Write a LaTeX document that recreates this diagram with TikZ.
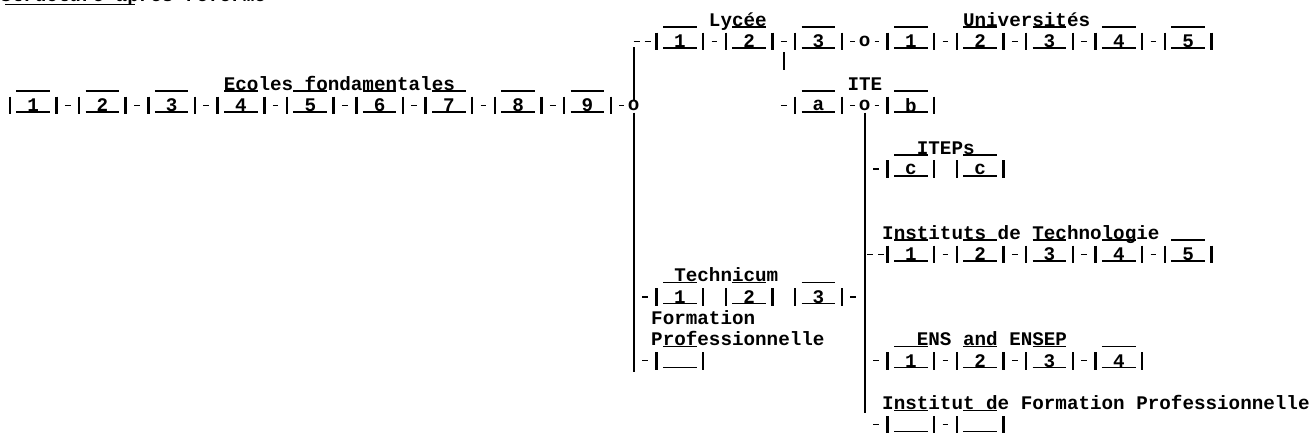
\documentclass[tikz,border=0pt]{standalone}
\usepackage{fontspec}
\setmonofont{Liberation Mono}
\newcommand\mkcell[4]{%
  \node[cell] (#1) at ({4.2+(#2+2.5)*11.55},#3) {#4};
  \draw[vbar] (#1.north west) -- (#1.south west) (#1.north east) -- (#1.south east);
  \draw[hbar] ([xshift=6.5pt,yshift=2pt]#1.south west) -- ([xshift=-6.5pt,yshift=2pt]#1.south east);
  \draw[hbar] ([xshift=6.5pt,yshift=5.5pt]#1.north west) -- ([xshift=-6.5pt,yshift=5.5pt]#1.north east);}
\newcommand\cc[1]{{4.2+(#1+0.5)*11.55}}
\newcommand\cl[1]{{4.2+(#1)*11.55}}
\tikzset{
  every node/.style={font=\ttfamily\bfseries\fontsize{19.25}{20}\selectfont, inner sep=0pt},
  cell/.style={minimum width=46.2pt, minimum height=17pt},
  lab/.style={anchor=base west},
  vbar/.style={line width=2.5pt},
  hbar/.style={line width=1.5pt},
  lk/.style={line width=1.3pt, shorten <=8.5pt, shorten >=8.5pt},
  lkl/.style={line width=1.3pt, shorten <=8.5pt, shorten >=4pt},
  lkr/.style={line width=1.3pt, shorten <=4pt, shorten >=8.5pt},
  dd/.style={line width=1.3pt, dash pattern=on 6pt off 5pt},
  trunk/.style={line width=2.3pt},
}
\begin{document}
\begin{tikzpicture}[x=1pt,y=-1pt]
\useasboundingbox[fill=white] (0,0) rectangle (1316,440);
% title (cut off at top)
\node[lab] (title) at (0,1.5) {Structure après réforme};
\draw[hbar] (5,4.5) -- (135,4.5);
% ---- row 1: Ecoles fondamentales
\node[lab] (ecoles) at (\cl{19},90.1) {Ecoles fondamentales};
\mkcell{e1}{0}{105.2}{1}
\mkcell{e2}{6}{105.2}{2}
\mkcell{e3}{12}{105.2}{3}
\mkcell{e4}{18}{105.2}{4}
\mkcell{e5}{24}{105.2}{5}
\mkcell{e6}{30}{105.2}{6}
\mkcell{e7}{36}{105.2}{7}
\mkcell{e8}{42}{105.2}{8}
\mkcell{e9}{48}{105.2}{9}
\draw[lk] (e1) -- (e2); \draw[lk] (e2) -- (e3); \draw[lk] (e3) -- (e4);
\draw[lk] (e4) -- (e5); \draw[lk] (e5) -- (e6); \draw[lk] (e6) -- (e7);
\draw[lk] (e7) -- (e8); \draw[lk] (e8) -- (e9);
\node (o1) at (\cc{54},105.2) {o};
\draw[lkl] (e9.east) -- (o1.west);
% ---- Lycee / Universites
\node[lab] (lycee) at (\cl{61},26.2) {Lycée};
\node[lab] (univ) at (\cl{83},26.2) {Universités};
\mkcell{l1}{56}{41.3}{1}
\mkcell{l2}{62}{41.3}{2}
\mkcell{l3}{68}{41.3}{3}
\node (o2) at (\cc{74},41.3) {o};
\mkcell{u1}{76}{41.3}{1}
\mkcell{u2}{82}{41.3}{2}
\mkcell{u3}{88}{41.3}{3}
\mkcell{u4}{94}{41.3}{4}
\mkcell{u5}{100}{41.3}{5}
\draw[lk] (l1) -- (l2); \draw[lk] (l2) -- (l3);
\draw[lkl] (l3.east) -- (o2.west); \draw[lkr] (o2.east) -- (u1.west);
\draw[lk] (u1) -- (u2); \draw[lk] (u2) -- (u3); \draw[lk] (u3) -- (u4); \draw[lk] (u4) -- (u5);
% trunk 1
\coordinate (t1top) at (\cc{54},41.3);
\coordinate (t1bot) at (\cc{54},372);
\draw[dd, shorten >=4pt] (t1top) -- (l1.west);
\draw[trunk] ([yshift=-6pt]t1top) -- (o1.north);
\draw[trunk, shorten <=2pt] (o1.south) -- (t1bot);
% small bar under Lycee
\coordinate (v1) at (\cc{67},52);
\coordinate (v2) at (\cc{67},70);
\draw[trunk] (v1) -- (v2);
% ---- ITE
\node[lab] (ite) at (\cl{73},90.1) {ITE};
\coordinate (ite0) at (\cc{66},105.2);
\mkcell{ia}{68}{105.2}{a}
\node (o3) at (\cc{74},105.2) {o};
\mkcell{ib}{76}{105.2}{b}
\draw[lk] (ite0) -- (ia.west);
\draw[lkl] (ia.east) -- (o3.west); \draw[lkr] (o3.east) -- (ib.west);
\coordinate (t2bot) at (\cc{74},413);
\draw[trunk, shorten <=2pt] (o3.south) -- (t2bot);
% ---- ITEPs
\node[lab] (iteps) at (\cl{79},154) {ITEPs};
\mkcell{c1}{76}{169.1}{c}
\mkcell{c2}{82}{169.1}{c}
\coordinate (j4) at (\cc{74},169.1);
\draw[lk] (j4) -- (c1.west);
% ---- Instituts de Technologie
\node[lab] (itech) at (\cl{76},239.2) {Instituts de Technologie};
\mkcell{it1}{76}{254.3}{1}
\mkcell{it2}{82}{254.3}{2}
\mkcell{it3}{88}{254.3}{3}
\mkcell{it4}{94}{254.3}{4}
\mkcell{it5}{100}{254.3}{5}
\coordinate (j5) at (\cc{74},254.3);
\draw[dd, shorten <=2.5pt, shorten >=4pt] (j5) -- (it1.west);
\draw[lk] (it1) -- (it2); \draw[lk] (it2) -- (it3); \draw[lk] (it3) -- (it4); \draw[lk] (it4) -- (it5);
% ---- Technicum
\node[lab] (techn) at (\cl{58},281.8) {Technicum};
\mkcell{t1}{56}{296.9}{1}
\mkcell{t2}{62}{296.9}{2}
\mkcell{t3}{68}{296.9}{3}
\coordinate (j1) at (\cc{54},296.9);
\coordinate (j3) at (\cc{74},296.9);
\draw[lk] (j1) -- (t1.west);
\draw[lk] (t3.east) -- (j3);
\node[lab] (form) at (\cl{56},324.4) {Formation};
\node[lab] (prof) at (\cl{56},345.7) {Professionnelle};
\mkcell{fp}{56}{360.8}{}
\coordinate (j2) at (\cc{54},360.8);
\draw[lk] (j2) -- (fp.west);
% ---- ENS and ENSEP
\node[lab] (ens) at (\cl{79},345.7) {ENS and ENSEP};
\mkcell{en1}{76}{360.8}{1}
\mkcell{en2}{82}{360.8}{2}
\mkcell{en3}{88}{360.8}{3}
\mkcell{en4}{94}{360.8}{4}
\coordinate (j6) at (\cc{74},360.8);
\draw[lk] (j6) -- (en1.west);
\draw[lk] (en1) -- (en2); \draw[lk] (en2) -- (en3); \draw[lk] (en3) -- (en4);
% ---- Institut de Formation Professionnelle
\node[lab] (ifp) at (\cl{76},409.6) {Institut de Formation Professionnelle};
\mkcell{if1}{76}{424.7}{}
\mkcell{if2}{82}{424.7}{}
\coordinate (j7) at (\cc{74},424.7);
\draw[lk] (j7) -- (if1.west);
\draw[lk] (if1) -- (if2);
\end{tikzpicture}
\end{document}
